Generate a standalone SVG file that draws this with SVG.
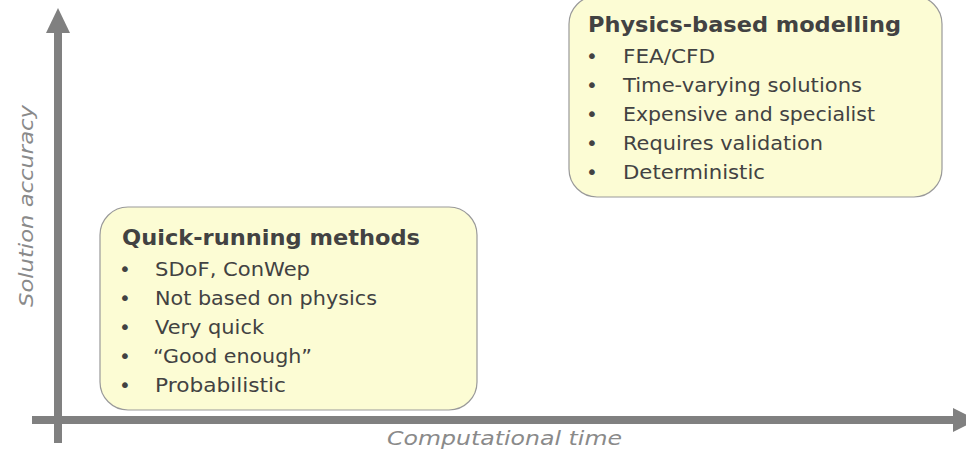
<svg xmlns="http://www.w3.org/2000/svg" width="966" height="455" viewBox="0 0 966 455">
<style>
.box{fill:#fcfcd4;stroke:#999;stroke-width:1.2}
.title{font-family:"DejaVu Sans","Liberation Sans",sans-serif;font-weight:bold;font-size:22px;fill:#424242}
.item{font-family:"DejaVu Sans","Liberation Sans",sans-serif;font-size:20px;fill:#424242}
.axlabel{font-family:"DejaVu Sans","Liberation Sans",sans-serif;font-style:italic;font-size:20px;fill:#8a8a8a}
.axis{fill:#808080}
</style>
<rect width="966" height="455" fill="#fff"/>
<g id="connectors">
  <g id="y-axis" class="axis">
    <rect x="54" y="31" width="8" height="412"/>
    <polygon points="58,8 46,33 70,33"/>
  </g>
  <g id="x-axis" class="axis">
    <rect x="32" y="416" width="923" height="8"/>
    <polygon points="953,408 977,420 953,432"/>
  </g>
</g>
<g id="physics-based">
  <rect class="box" x="569" y="-4" width="373" height="201" rx="28"/>
  <text class="title" x="588" y="32" textLength="313" lengthAdjust="spacingAndGlyphs">Physics-based modelling</text>
  <g class="item">
    <text x="586" y="63">•</text><text x="623" y="63" textLength="92" lengthAdjust="spacingAndGlyphs">FEA/CFD</text>
    <text x="586" y="92">•</text><text x="623" y="92" textLength="239" lengthAdjust="spacingAndGlyphs">Time-varying solutions</text>
    <text x="586" y="121">•</text><text x="623" y="121" textLength="252" lengthAdjust="spacingAndGlyphs">Expensive and specialist</text>
    <text x="586" y="150">•</text><text x="623" y="150" textLength="200" lengthAdjust="spacingAndGlyphs">Requires validation</text>
    <text x="586" y="179">•</text><text x="623" y="179" textLength="142" lengthAdjust="spacingAndGlyphs">Deterministic</text>
  </g>
</g>
<g id="quick-running">
  <rect class="box" x="100" y="207" width="377" height="203" rx="28"/>
  <text class="title" x="122" y="245" textLength="298" lengthAdjust="spacingAndGlyphs">Quick-running methods</text>
  <g class="item">
    <text x="119" y="276">•</text><text x="155" y="276" textLength="155" lengthAdjust="spacingAndGlyphs">SDoF, ConWep</text>
    <text x="119" y="305">•</text><text x="155" y="305" textLength="222" lengthAdjust="spacingAndGlyphs">Not based on physics</text>
    <text x="119" y="334">•</text><text x="155" y="334" textLength="109" lengthAdjust="spacingAndGlyphs">Very quick</text>
    <text x="119" y="363">•</text><text x="153" y="363" textLength="159" lengthAdjust="spacingAndGlyphs">“Good enough”</text>
    <text x="119" y="392">•</text><text x="155" y="392" textLength="131" lengthAdjust="spacingAndGlyphs">Probabilistic</text>
  </g>
</g>
<g id="axis-labels">
  <text class="axlabel" x="387" y="445" textLength="235" lengthAdjust="spacingAndGlyphs">Computational time</text>
  <text class="axlabel" transform="translate(33,307) rotate(-90)" x="0" y="0" textLength="202" lengthAdjust="spacingAndGlyphs">Solution accuracy</text>
</g>
</svg>
